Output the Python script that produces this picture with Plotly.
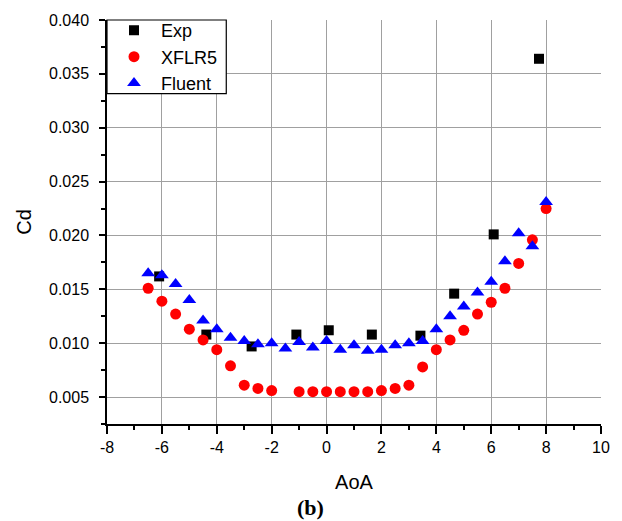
import plotly.graph_objects as go

# ---- data ----
exp_aoa = [-6.1, -4.38, -2.73, -1.1, 0.08, 1.65, 3.42, 4.65, 6.09, 7.74]
exp_cd = [0.0162, 0.0108, 0.0097, 0.0108, 0.0112, 0.0108, 0.0107, 0.0146, 0.0201, 0.0364]

xflr_aoa = [-6.5, -6.0, -5.5, -5.0, -4.5, -4.0, -3.5, -3.0, -2.5, -2.0,
            -1.0, -0.5, 0.0, 0.5, 1.0, 1.5, 2.0, 2.5, 3.0, 3.5,
            4.0, 4.5, 5.0, 5.5, 6.0, 6.5, 7.0, 7.5, 8.0]
xflr_cd = [0.0151, 0.0139, 0.0127, 0.0113, 0.0103, 0.0094, 0.0079, 0.0061, 0.0058, 0.0056,
           0.0055, 0.0055, 0.0055, 0.0055, 0.0055, 0.0055, 0.0056, 0.0058, 0.0061, 0.0078,
           0.0094, 0.0103, 0.0112, 0.0127, 0.0138, 0.0151, 0.0174, 0.0196, 0.0225]

fluent_aoa = [-6.5, -6.0, -5.5, -5.0, -4.5, -4.0, -3.5, -3.0, -2.5, -2.0,
              -1.5, -1.0, -0.5, 0.0, 0.5, 1.0, 1.5, 2.0, 2.5, 3.0,
              3.5, 4.0, 4.5, 5.0, 5.5, 6.0, 6.5, 7.0, 7.5, 8.0]
fluent_cd = [0.0165, 0.0163, 0.0155, 0.0140, 0.0121, 0.0113, 0.0105, 0.0102, 0.0099, 0.0100,
             0.0095, 0.0101, 0.0096, 0.0102, 0.0094, 0.0098, 0.0093, 0.0094, 0.0098, 0.0100,
             0.0102, 0.0113, 0.0125, 0.0134, 0.0147, 0.0157, 0.0176, 0.0202, 0.0190, 0.0231]

x_tickvals = [-8, -6, -4, -2, 0, 2, 4, 6, 8, 10]
x_ticktext = ["-8", "-6", "-4", "-2", "0", "2", "4", "6", "8", "10"]
y_tickvals = [0.005, 0.010, 0.015, 0.020, 0.025, 0.030, 0.035, 0.040]
y_ticktext = ["0.005", "0.010", "0.015", "0.020", "0.025", "0.030", "0.035", "0.040"]

FONT = "Arial, Liberation Sans, sans-serif"

# plot-area geometry in pixels (for legend box / annotation placement)
W, H = 622, 521
L, R, T, B = 107, 18, 18, 97
PW, PH = W - L - R, H - T - B

fig = go.Figure()
fig.add_trace(go.Scatter(x=exp_aoa, y=exp_cd, mode="markers", name="Exp",
                         marker=dict(symbol="square", size=10, color="black")))
fig.add_trace(go.Scatter(x=xflr_aoa, y=xflr_cd, mode="markers", name="XFLR5",
                         marker=dict(symbol="circle", size=11, color="#ff0000")))
fig.add_trace(go.Scatter(x=fluent_aoa, y=fluent_cd, mode="markers", name="Fluent",
                         marker=dict(symbol="triangle-up", size=12, color="#0000ff")))

fig.update_layout(
    width=W, height=H,
    margin=dict(l=L, r=R, t=T, b=B),
    paper_bgcolor="white", plot_bgcolor="white",
    font=dict(family=FONT, size=16, color="black"),
    showlegend=True,
    legend=dict(x=0, y=1 + 8 / PH, xanchor="left", yanchor="top",
                bgcolor="rgba(0,0,0,0)", borderwidth=0,
                font=dict(family=FONT, size=18, color="black"),
                itemwidth=44, tracegroupgap=0),
    xaxis=dict(range=[-8, 10], tickvals=x_tickvals, ticktext=x_ticktext,
               showline=True, linecolor="black", linewidth=1.5, mirror=False,
               ticks="outside", ticklen=8, tickcolor="black", tickwidth=1.5,
               showgrid=True, gridcolor="#a0a0a0", gridwidth=1, zeroline=False,
               minor=dict(dtick=1, ticks="outside", ticklen=4, tickcolor="black", showgrid=False),
               title=dict(text="AoA", font=dict(family=FONT, size=20), standoff=20),
               tickfont=dict(family=FONT, size=16)),
    yaxis=dict(range=[0.0025, 0.040], tickvals=y_tickvals, ticktext=y_ticktext,
               showline=True, linecolor="black", linewidth=1.5, mirror=False,
               ticks="outside", ticklen=6, tickcolor="black", tickwidth=1.5,
               ticklabelstandoff=7,
               showgrid=True, gridcolor="#a0a0a0", gridwidth=1, zeroline=False,
               minor=dict(dtick=0.0025, tick0=0, ticks="outside", ticklen=4, tickcolor="black", showgrid=False),
               title=dict(text="Cd", font=dict(family=FONT, size=20), standoff=12),
               tickfont=dict(family=FONT, size=16)),
    shapes=[dict(type="rect", xref="paper", yref="paper", layer="above",
                 x0=0, x1=(227 - L) / PW, y0=1 - (92 - T) / PH, y1=1,
                 line=dict(color="black", width=1.2), fillcolor="white")],
    annotations=[dict(text="<b>(b)</b>", x=(312 - L) / PW, y=-(508 - (H - B)) / PH,
                      xref="paper", yref="paper", xanchor="center", yanchor="middle",
                      showarrow=False,
                      font=dict(family="Times New Roman, Liberation Serif, serif", size=22, color="black"))],
)

fig.write_html("out.html")
